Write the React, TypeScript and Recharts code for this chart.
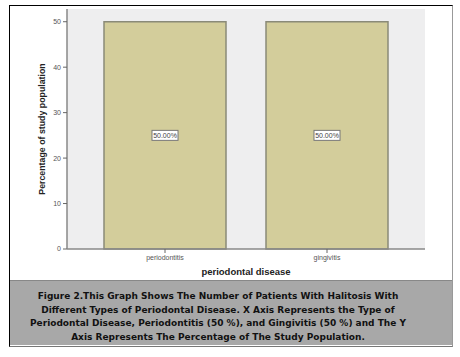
import { BarChart, Bar, XAxis, YAxis, CartesianGrid, LabelList } from 'recharts'

const categories = ['periodontitis', 'gingivitis']
const percentages = [50, 50]
const yTicks = [0, 10, 20, 30, 40, 50]
const captionLines = [
  'Figure 2.This Graph Shows The Number of Patients With Halitosis With',
  'Different Types of Periodontal Disease. X Axis Represents the Type of',
  'Periodontal Disease, Periodontitis (50 %), and Gingivitis (50 %) and The Y',
  'Axis Represents The Percentage of The Study Population.',
]

const data = categories.map((name, i) => ({ name, value: percentages[i] }))

const tickFont = { fontSize: 7, fontFamily: 'Liberation Sans, Arial', fill: '#555' }

function PctLabel(props: any) {
  const { x, y, width, height, value } = props
  const cx = x + width / 2
  const cy = y + height / 2
  const text = `${Number(value).toFixed(2)}%`
  return (
    <g>
      <rect x={cx - 13} y={cy - 5} width={26} height={10} fill="#ffffff" stroke="#777" strokeWidth={1} />
      <text x={cx} y={cy + 2.5} textAnchor="middle" fontSize={7} fontFamily="Liberation Sans, Arial" fill="#444">
        {text}
      </text>
    </g>
  )
}

function YTitle(props: any) {
  const vb = props.viewBox
  const cx = vb.x + vb.width / 2
  const cy = vb.y + vb.height / 2
  return (
    <text
      x={cx}
      y={cy}
      transform={`rotate(-90 ${cx} ${cy})`}
      textAnchor="middle"
      dominantBaseline="central"
      fontSize={8.8}
      fontWeight="bold"
      fontFamily="Liberation Sans, Arial"
      fill="#222"
    >
      Percentage of study population
    </text>
  )
}

export default function App() {
  return (
    <div style={{ position: 'absolute', left: 0, top: 0, width: 460, height: 357, background: '#fff' }}>
      <div
        style={{
          position: 'absolute', left: 9, top: 5, width: 442, height: 340,
          borderTop: '1px solid #000', borderLeft: '1px solid #000',
          borderRight: '1px solid #999', borderBottom: '1px solid #777',
        }}
      />
      <div style={{ position: 'absolute', left: 0, top: 0 }}>
        <BarChart
          width={460}
          height={280}
          data={data}
          margin={{ top: 9, right: 35, left: 17, bottom: 1 }}
          barCategoryGap={20}
        >
          <CartesianGrid fill="#eeeeef" horizontal={false} vertical={false} />
          <XAxis
            dataKey="name"
            height={30}
            padding={{ left: 17, right: 17 }}
            tick={tickFont}
            tickLine={{ stroke: '#666' }}
            tickSize={4}
            axisLine={{ stroke: '#888', strokeWidth: 1.5 }}
            label={{
              value: 'periodontal disease', position: 'insideBottom', offset: 4,
              style: { fontSize: 9.5, fontWeight: 'bold', fontFamily: 'Liberation Sans, Arial', fill: '#222' },
            }}
          />
          <XAxis xAxisId="top" orientation="top" dataKey="name" height={0} tick={false} tickLine={false} axisLine={{ stroke: '#aaa' }} />
          <YAxis
            domain={[0, 52.8]}
            ticks={yTicks}
            width={50}
            tick={tickFont}
            tickSize={4}
            tickLine={{ stroke: '#666' }}
            axisLine={{ stroke: '#888', strokeWidth: 1.5 }}
            label={{ content: YTitle }}
          />
          <YAxis yAxisId="right" orientation="right" width={0} tick={false} tickLine={false} axisLine={{ stroke: '#aaa' }} />
          <Bar dataKey="value" fill="#d3cd9b" stroke="#8a8a78" strokeWidth={1.5} isAnimationActive={false}>
            <LabelList dataKey="value" content={PctLabel} />
          </Bar>
        </BarChart>
      </div>
      <div
        style={{
          position: 'absolute', left: 10, top: 280, width: 442, height: 65,
          background: '#a8a8a8', borderTop: '1px solid #888',
          fontFamily: 'DejaVu Sans, Verdana', fontWeight: 'bold',
          fontSize: 9, lineHeight: '13.5px', color: '#111', textAlign: 'center',
          paddingTop: 9, paddingRight: 26, boxSizing: 'border-box',
        }}
      >
        {captionLines.map((l) => (
          <div key={l} style={{ whiteSpace: 'nowrap' }}>{l}</div>
        ))}
      </div>
    </div>
  )
}
